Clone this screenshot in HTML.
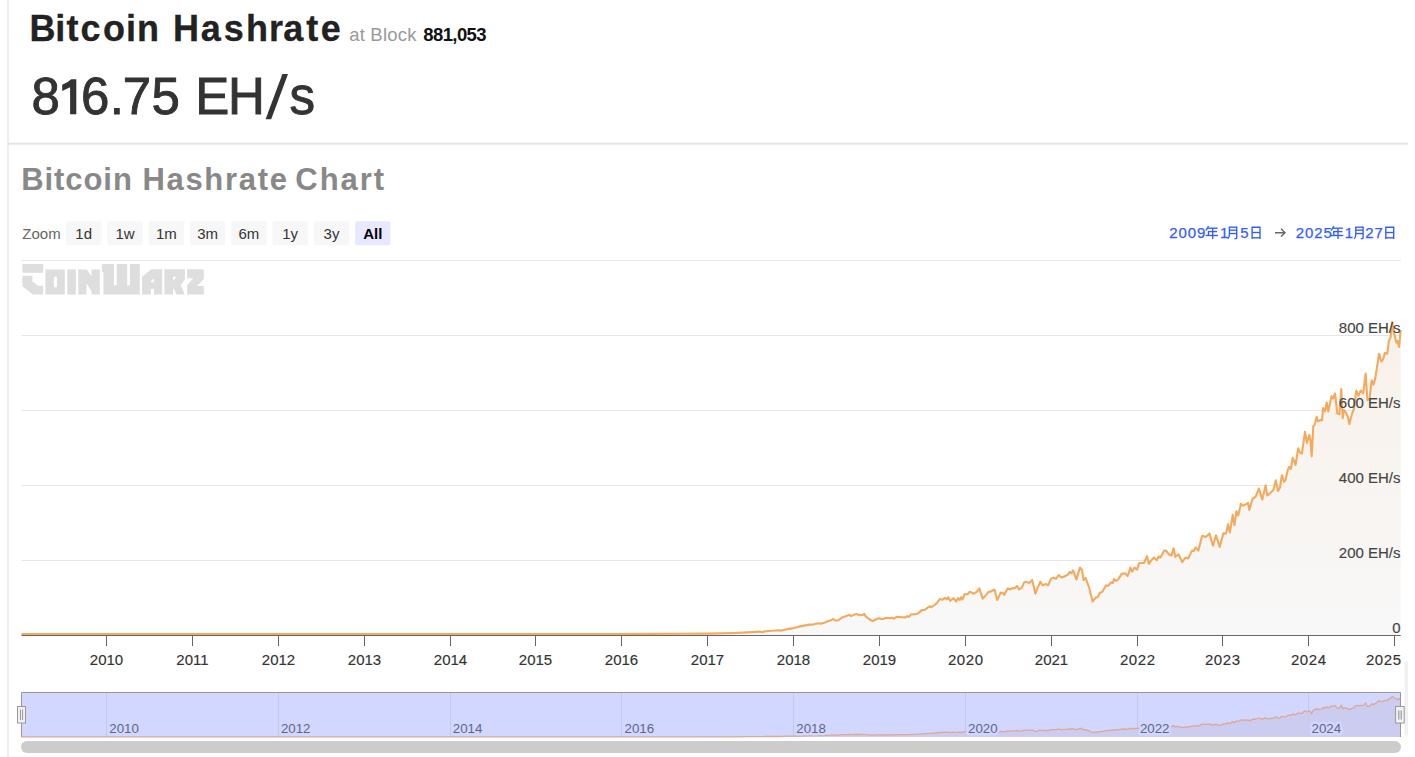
<!DOCTYPE html>
<html><head><meta charset="utf-8">
<style>
html,body{margin:0;padding:0;background:#fff;}
body{width:1415px;height:757px;overflow:hidden;position:relative;font-family:"Liberation Sans",sans-serif;}
.a{position:absolute;white-space:nowrap;line-height:1;}
#vline{position:absolute;left:7px;top:0;width:2px;height:757px;background:#efefef;}
#t2{left:349.2px;top:26px;font-size:18.5px;color:#999;letter-spacing:0.2px;}
#t3{left:423.3px;top:26px;font-size:18.5px;font-weight:bold;color:#111;letter-spacing:-0.6px;}
svg{position:absolute;left:0;top:0;}
</style></head><body>
<div id="vline"></div>
<div class="a" id="t2">at Block</div>
<div class="a" id="t3">881,053</div>

<svg width="1415" height="757" viewBox="0 0 1415 757" font-family="Liberation Sans, sans-serif">
<defs>
<linearGradient id="ag" x1="0" y1="0" x2="0" y2="1">
<stop offset="0" stop-color="#f9f1ea"/>
<stop offset="1" stop-color="#f8f8f8"/>
</linearGradient>
</defs>

<text x="29.5 55.3 66.5 80.6 102.9 126.1 136.9 173.1 200.7 223.8 246.0 268.9 283.3 306.2 320.8" y="41" font-size="36" font-weight="bold" fill="#222" stroke="#222" stroke-width="0.3">BitcoinHashrate</text>
<text x="31.6 80.9 109.8 122.7 151.4 195.2 228.0 289.6" y="114.3" font-size="51" fill="#333" stroke="#333" stroke-width="0.9">86.75EHs</text>
<path d="M282.4 74 H288 L271.2 119.3 H265.6 Z" fill="#333"/>
<path d="M76.3 79.3 V114.3 H70.1 V87.2 L62.2 91 V84.8 Q68.5 82.2 71.2 79.3 Z" fill="#333"/>
<rect x="8" y="142.7" width="1400" height="2" fill="#e4e4e4"/>
<g font-size="31" font-weight="bold" fill="#888">
<text x="21.2" y="189.9" letter-spacing="0.93">Bitcoin</text>
<text x="142.4" y="189.9" letter-spacing="1.7">Hashrate</text>
<text x="295.3" y="189.9" letter-spacing="1.95">Chart</text>
</g>
<!-- range selector -->
<text x="22.3" y="238.7" font-size="15" fill="#666">Zoom</text>
<g font-size="15" fill="#333" text-anchor="middle">
<rect x="66" y="221.3" width="35.4" height="24" rx="2" fill="#f7f7f7"/><text x="83.7" y="238.7">1d</text>
<rect x="107.3" y="221.3" width="35.4" height="24" rx="2" fill="#f7f7f7"/><text x="125" y="238.7">1w</text>
<rect x="148.6" y="221.3" width="35.4" height="24" rx="2" fill="#f7f7f7"/><text x="166.3" y="238.7">1m</text>
<rect x="189.9" y="221.3" width="35.4" height="24" rx="2" fill="#f7f7f7"/><text x="207.6" y="238.7">3m</text>
<rect x="231.2" y="221.3" width="35.4" height="24" rx="2" fill="#f7f7f7"/><text x="248.9" y="238.7">6m</text>
<rect x="272.5" y="221.3" width="35.4" height="24" rx="2" fill="#f7f7f7"/><text x="290.2" y="238.7">1y</text>
<rect x="313.8" y="221.3" width="35.4" height="24" rx="2" fill="#f7f7f7"/><text x="331.5" y="238.7">3y</text>
<rect x="355.1" y="221.3" width="35.4" height="24" rx="2" fill="#e6e9ff"/><text x="372.8" y="238.7" font-weight="bold" fill="#000">All</text>
</g>
<!-- date range -->
<g font-size="15" fill="#335cff" letter-spacing="0.9" stroke="#335cff" stroke-width="0.25">
<text x="1169.2" y="237.8">2009</text>
<text x="1220" y="237.8">1</text>
<text x="1240.3" y="237.8">5</text>
<text x="1295.8" y="237.8">2025</text>
<text x="1344.8" y="237.8">1</text>
<text x="1365.2" y="237.8">27</text>
</g>
<g transform="translate(1205.6 226)" fill="none" stroke="#335cff" stroke-width="1.35"><path d="M3 0.1 L0.2 4.6"/><path d="M1.9 2.2 H12"/><path d="M2.4 5.6 H11.5"/><path d="M2.9 5 V9.5"/><path d="M-0.1 9.5 H12.4"/><path d="M7.1 2.2 V12.9"/></g>
<g transform="translate(1227.2 226.6)" fill="none" stroke="#335cff" stroke-width="1.35"><path d="M2.2 0.6 V7.6 Q2.2 10.6 0.6 12.3"/><path d="M1.6 0.6 H9.5"/><path d="M9.5 0 V11.3 Q9.5 12 8.8 12 H7.2"/><path d="M2.2 3.55 H9.5"/><path d="M2.2 6.95 H9.5"/></g>
<g transform="translate(1251.2 226.6)" fill="none" stroke="#335cff" stroke-width="1.35"><path d="M0.9 12.3 V0.6 H8.8 V12.3"/><path d="M0.9 5.9 H8.8"/><path d="M0.9 11.2 H8.8"/></g>
<g transform="translate(1330.9 226)" fill="none" stroke="#335cff" stroke-width="1.35"><path d="M3 0.1 L0.2 4.6"/><path d="M1.9 2.2 H12"/><path d="M2.4 5.6 H11.5"/><path d="M2.9 5 V9.5"/><path d="M-0.1 9.5 H12.4"/><path d="M7.1 2.2 V12.9"/></g>
<g transform="translate(1353.6 226.6)" fill="none" stroke="#335cff" stroke-width="1.35"><path d="M2.2 0.6 V7.6 Q2.2 10.6 0.6 12.3"/><path d="M1.6 0.6 H9.5"/><path d="M9.5 0 V11.3 Q9.5 12 8.8 12 H7.2"/><path d="M2.2 3.55 H9.5"/><path d="M2.2 6.95 H9.5"/></g>
<g transform="translate(1384.9 226.6)" fill="none" stroke="#335cff" stroke-width="1.35"><path d="M0.9 12.3 V0.6 H8.8 V12.3"/><path d="M0.9 5.9 H8.8"/><path d="M0.9 11.2 H8.8"/></g>
<path d="M1275 232.7 H1285 M1281 228.8 L1285 232.7 L1281 236.6" fill="none" stroke="#666" stroke-width="1.4"/>

<!-- watermark logo -->
<g fill="#dedede">
<path d="M22.4 264 H43.2 V272.8 H22.4 Z"/>
<path d="M22.4 275.8 H32.4 V281.5 L37.8 285.8 H43.2 V294.6 H32.8 L22.4 286.2 Z"/>
<path fill-rule="evenodd" d="M45.4 269.4 H64.8 V294.6 H45.4 Z M53.9 276.8 V287.2 H56.9 V276.8 Z"/>
<path d="M67.3 269.4 H75.9 V294.6 H67.3 Z"/>
<path d="M78.3 269.4 H86.8 L91.5 276.4 V269.4 H99.8 V294.6 H91.5 V290.9 L86.5 283.5 V294.6 H78.3 Z"/>
<path d="M101.9 263.9 H114 V285.3 H116.7 V263.9 H127.2 V285.3 H129.9 V263.9 H139.8 V294.6 H103.5 V272.6 L101.9 272 Z"/>
<path fill-rule="evenodd" d="M142 276.7 L151.3 269.3 H162.2 V294.6 H154 V288.8 H150.9 V294.6 H142 Z M150.9 281.2 L154 278.3 V282.2 H150.9 Z"/>
<path fill-rule="evenodd" d="M164.4 269.3 H184.9 V279.4 L180.8 284.9 L184.7 294.6 H176.6 L173.1 287.6 V294.6 H164.4 Z M173.1 276.7 H176.6 L173.1 281 Z"/>
<path d="M187.1 269.3 H203.8 V279 L197.2 286 H203.8 V294.6 H187.1 V284.9 L193.3 278.3 H187.1 Z"/>
</g>

<!-- gridlines -->
<g stroke="#e6e6e6" stroke-width="1">
<line x1="21.5" y1="260.5" x2="1400.7" y2="260.5"/>
<line x1="21.5" y1="335.5" x2="1400.7" y2="335.5"/>
<line x1="21.5" y1="410.5" x2="1400.7" y2="410.5"/>
<line x1="21.5" y1="485.5" x2="1400.7" y2="485.5"/>
<line x1="21.5" y1="560.5" x2="1400.7" y2="560.5"/>
</g>
<!-- series -->
<path d="M21.5 634 L33.5 634 L45.5 634 L57.5 634 L69.5 634 L81.5 634 L93.5 634 L105.5 634 L117.5 634 L129.5 634 L141.5 634 L153.5 634 L165.5 634 L177.5 634 L189.5 634 L201.5 634 L213.5 634 L225.5 634 L237.5 634 L249.5 634 L261.5 634 L273.5 634 L285.5 634 L297.5 634 L309.5 634 L321.5 634 L333.5 634 L345.5 634 L357.5 634 L369.5 634 L381.5 634 L393.5 634 L405.5 634 L417.5 634 L429.5 634 L441.5 634 L453.5 634 L465.5 634 L477.5 634 L489.5 634 L501.5 634 L513.5 634 L525.5 634 L537.5 634 L549.5 634 L561.5 634 L573.5 634 L585.5 634 L597.5 634 L609.5 634 L620 634 L650 633.9 L680 633.8 L706.5 633.6 L720 633.4 L734.5 633 L747.2 632.4 L759.9 631.6 L762.5 632.2 L765 631.2 L772 630.8 L779 630.2 L781.6 630.6 L787.9 628.9 L792.1 628.4 L797.8 626.9 L802.9 625.9 L809.3 624.6 L813.1 624.6 L818.2 623.3 L820.1 623.8 L824.5 622.8 L827.1 621.5 L830.9 620.3 L833.2 619 L835.3 620.5 L837.9 620.5 L842.3 617.4 L846.1 616.1 L849.3 614.8 L851.2 616.1 L856.1 613.9 L860.1 615.2 L862.7 614.9 L864.2 613.9 L865.9 616.7 L869 619 L872.6 621.2 L876.7 619 L879.2 618.2 L881.8 619.3 L886.9 617.7 L890 618.2 L892 617.7 L893.9 618.6 L897 616.7 L900.9 617.1 L905.3 617.4 L907.2 616.1 L908.7 617 L911 614.4 L914.8 614.2 L918 613.5 L921.8 610.1 L925 609.7 L929.5 606.3 L931.4 607.2 L935.8 604.2 L940 598.9 L942.2 599.9 L944.9 597.9 L946.8 599.4 L948.2 597.2 L950.2 600.8 L953.4 598.2 L956.3 601.5 L958.1 598 L959.8 600.1 L961.2 597.2 L962.6 599.4 L964.7 594 L967.6 594.4 L969.7 591.6 L973.9 593.7 L977 591.6 L979.3 588.3 L982.7 598.7 L986.6 594.4 L988.8 591.6 L990.9 591.6 L994.4 589.5 L997.2 600.1 L1000.8 592.6 L1002.9 593 L1004.3 594.8 L1007.8 588.3 L1010 589.5 L1012.8 588.1 L1014.9 588.1 L1017 585.9 L1019.2 589.5 L1022 587.3 L1024.1 582.4 L1026.2 581.7 L1029 583.1 L1032.2 579.9 L1035.4 593.7 L1037.5 588.1 L1040.4 581.7 L1042.5 585.2 L1046 584.1 L1048.1 585.2 L1051 578.9 L1053.1 577.5 L1055.9 578.9 L1058.7 575.1 L1061.6 577.5 L1064.4 576.5 L1067.9 574.6 L1069.8 571.8 L1071.4 573.2 L1073.1 570.4 L1076.4 579.6 L1079.9 567.6 L1082 569.7 L1083.5 579.9 L1085.6 577.9 L1089.1 587.3 L1092.6 601.5 L1096.2 597.2 L1097.6 597.2 L1099.7 593 L1102.5 591.6 L1106.1 585.2 L1108.2 585.9 L1111 582.4 L1112.7 583.1 L1114.1 578.9 L1116 581 L1118.1 579.6 L1121.6 573.9 L1125.2 573.2 L1127.7 576 L1130.4 567.6 L1132 571.7 L1134.5 567.6 L1137.1 569.6 L1139.2 563 L1143.9 563 L1147 556.2 L1148.9 563.9 L1151.3 560.2 L1154 557.5 L1156.8 560.2 L1158.7 556.5 L1160.5 557.5 L1164.2 550.6 L1166.1 550.6 L1168.8 554.3 L1171.6 555.6 L1173.5 548.2 L1175.3 556.9 L1178.5 554.3 L1182.2 562.1 L1185.5 557.5 L1188.3 558.4 L1192 550.6 L1193.8 551 L1195.7 547.3 L1198.4 550.6 L1202.1 535.8 L1205.8 537.1 L1209.5 533.4 L1212.9 545.8 L1216 535.3 L1219.7 546.9 L1223.4 533.4 L1226.2 533.4 L1228 524.2 L1229.9 532.5 L1232.7 514.9 L1234.5 525.1 L1236.4 511.2 L1238.2 515.5 L1241 503.8 L1243.2 505.7 L1245.6 504.4 L1248 502.9 L1249.3 509.9 L1252.5 498.8 L1255.8 496.4 L1258.9 488.5 L1262.3 499.6 L1265.6 485.3 L1267.3 495.5 L1270.6 492.7 L1273.4 490 L1275.8 480.3 L1278 490.9 L1280 487.4 L1281.9 475.2 L1284 481.7 L1285.5 480.1 L1287.6 470.6 L1289.2 466.9 L1290.8 469 L1292.7 457.9 L1294.3 461.1 L1295.5 465 L1298.2 448.4 L1299.8 452.4 L1301.9 453.6 L1305 431.8 L1306.9 442.9 L1309.3 434.9 L1310.4 439.7 L1311.7 456.3 L1313.3 426.2 L1314.8 424.6 L1316.7 416.7 L1318 421.5 L1320.4 419.9 L1322 420.4 L1323.1 408 L1325.1 411.2 L1326.7 402.5 L1328.3 411.5 L1331.5 396.1 L1333.1 398.5 L1335.1 393.4 L1337.3 413.6 L1339.4 414.3 L1341.3 389 L1342.7 418.2 L1343.9 410 L1346.2 412.9 L1347.7 416.4 L1349.4 424 L1352 413.8 L1353.7 409.5 L1356.3 390.6 L1358.5 395.8 L1360.6 390.6 L1363.2 393.2 L1365.7 373.5 L1367.4 400.1 L1369.5 399.2 L1371.7 380.3 L1373.5 384.6 L1375.2 378.6 L1379.1 353.7 L1381.2 361.5 L1382.9 359.8 L1385 352.9 L1387.2 353.7 L1388.9 340.9 L1390.6 337.4 L1392.3 322 L1394 332.3 L1396.3 342.6 L1397.5 340.9 L1399.2 346.9 L1400.6 330 L1400.6 635 L21.5 635 Z" fill="url(#ag)"/>
<path d="M21.5 634 L33.5 634 L45.5 634 L57.5 634 L69.5 634 L81.5 634 L93.5 634 L105.5 634 L117.5 634 L129.5 634 L141.5 634 L153.5 634 L165.5 634 L177.5 634 L189.5 634 L201.5 634 L213.5 634 L225.5 634 L237.5 634 L249.5 634 L261.5 634 L273.5 634 L285.5 634 L297.5 634 L309.5 634 L321.5 634 L333.5 634 L345.5 634 L357.5 634 L369.5 634 L381.5 634 L393.5 634 L405.5 634 L417.5 634 L429.5 634 L441.5 634 L453.5 634 L465.5 634 L477.5 634 L489.5 634 L501.5 634 L513.5 634 L525.5 634 L537.5 634 L549.5 634 L561.5 634 L573.5 634 L585.5 634 L597.5 634 L609.5 634 L620 634 L650 633.9 L680 633.8 L706.5 633.6 L720 633.4 L734.5 633 L747.2 632.4 L759.9 631.6 L762.5 632.2 L765 631.2 L772 630.8 L779 630.2 L781.6 630.6 L787.9 628.9 L792.1 628.4 L797.8 626.9 L802.9 625.9 L809.3 624.6 L813.1 624.6 L818.2 623.3 L820.1 623.8 L824.5 622.8 L827.1 621.5 L830.9 620.3 L833.2 619 L835.3 620.5 L837.9 620.5 L842.3 617.4 L846.1 616.1 L849.3 614.8 L851.2 616.1 L856.1 613.9 L860.1 615.2 L862.7 614.9 L864.2 613.9 L865.9 616.7 L869 619 L872.6 621.2 L876.7 619 L879.2 618.2 L881.8 619.3 L886.9 617.7 L890 618.2 L892 617.7 L893.9 618.6 L897 616.7 L900.9 617.1 L905.3 617.4 L907.2 616.1 L908.7 617 L911 614.4 L914.8 614.2 L918 613.5 L921.8 610.1 L925 609.7 L929.5 606.3 L931.4 607.2 L935.8 604.2 L940 598.9 L942.2 599.9 L944.9 597.9 L946.8 599.4 L948.2 597.2 L950.2 600.8 L953.4 598.2 L956.3 601.5 L958.1 598 L959.8 600.1 L961.2 597.2 L962.6 599.4 L964.7 594 L967.6 594.4 L969.7 591.6 L973.9 593.7 L977 591.6 L979.3 588.3 L982.7 598.7 L986.6 594.4 L988.8 591.6 L990.9 591.6 L994.4 589.5 L997.2 600.1 L1000.8 592.6 L1002.9 593 L1004.3 594.8 L1007.8 588.3 L1010 589.5 L1012.8 588.1 L1014.9 588.1 L1017 585.9 L1019.2 589.5 L1022 587.3 L1024.1 582.4 L1026.2 581.7 L1029 583.1 L1032.2 579.9 L1035.4 593.7 L1037.5 588.1 L1040.4 581.7 L1042.5 585.2 L1046 584.1 L1048.1 585.2 L1051 578.9 L1053.1 577.5 L1055.9 578.9 L1058.7 575.1 L1061.6 577.5 L1064.4 576.5 L1067.9 574.6 L1069.8 571.8 L1071.4 573.2 L1073.1 570.4 L1076.4 579.6 L1079.9 567.6 L1082 569.7 L1083.5 579.9 L1085.6 577.9 L1089.1 587.3 L1092.6 601.5 L1096.2 597.2 L1097.6 597.2 L1099.7 593 L1102.5 591.6 L1106.1 585.2 L1108.2 585.9 L1111 582.4 L1112.7 583.1 L1114.1 578.9 L1116 581 L1118.1 579.6 L1121.6 573.9 L1125.2 573.2 L1127.7 576 L1130.4 567.6 L1132 571.7 L1134.5 567.6 L1137.1 569.6 L1139.2 563 L1143.9 563 L1147 556.2 L1148.9 563.9 L1151.3 560.2 L1154 557.5 L1156.8 560.2 L1158.7 556.5 L1160.5 557.5 L1164.2 550.6 L1166.1 550.6 L1168.8 554.3 L1171.6 555.6 L1173.5 548.2 L1175.3 556.9 L1178.5 554.3 L1182.2 562.1 L1185.5 557.5 L1188.3 558.4 L1192 550.6 L1193.8 551 L1195.7 547.3 L1198.4 550.6 L1202.1 535.8 L1205.8 537.1 L1209.5 533.4 L1212.9 545.8 L1216 535.3 L1219.7 546.9 L1223.4 533.4 L1226.2 533.4 L1228 524.2 L1229.9 532.5 L1232.7 514.9 L1234.5 525.1 L1236.4 511.2 L1238.2 515.5 L1241 503.8 L1243.2 505.7 L1245.6 504.4 L1248 502.9 L1249.3 509.9 L1252.5 498.8 L1255.8 496.4 L1258.9 488.5 L1262.3 499.6 L1265.6 485.3 L1267.3 495.5 L1270.6 492.7 L1273.4 490 L1275.8 480.3 L1278 490.9 L1280 487.4 L1281.9 475.2 L1284 481.7 L1285.5 480.1 L1287.6 470.6 L1289.2 466.9 L1290.8 469 L1292.7 457.9 L1294.3 461.1 L1295.5 465 L1298.2 448.4 L1299.8 452.4 L1301.9 453.6 L1305 431.8 L1306.9 442.9 L1309.3 434.9 L1310.4 439.7 L1311.7 456.3 L1313.3 426.2 L1314.8 424.6 L1316.7 416.7 L1318 421.5 L1320.4 419.9 L1322 420.4 L1323.1 408 L1325.1 411.2 L1326.7 402.5 L1328.3 411.5 L1331.5 396.1 L1333.1 398.5 L1335.1 393.4 L1337.3 413.6 L1339.4 414.3 L1341.3 389 L1342.7 418.2 L1343.9 410 L1346.2 412.9 L1347.7 416.4 L1349.4 424 L1352 413.8 L1353.7 409.5 L1356.3 390.6 L1358.5 395.8 L1360.6 390.6 L1363.2 393.2 L1365.7 373.5 L1367.4 400.1 L1369.5 399.2 L1371.7 380.3 L1373.5 384.6 L1375.2 378.6 L1379.1 353.7 L1381.2 361.5 L1382.9 359.8 L1385 352.9 L1387.2 353.7 L1388.9 340.9 L1390.6 337.4 L1392.3 322 L1394 332.3 L1396.3 342.6 L1397.5 340.9 L1399.2 346.9 L1400.6 330" fill="none" stroke="#f4aa5d" stroke-width="2.1" stroke-linejoin="round" stroke-linecap="butt"/>
<!-- axis -->
<line x1="21.5" y1="635.5" x2="1400.7" y2="635.5" stroke="#666" stroke-width="1"/>
<g stroke="#666" stroke-width="1"><line x1="106.5" y1="635" x2="106.5" y2="646" /><line x1="192.5" y1="635" x2="192.5" y2="646" /><line x1="278.5" y1="635" x2="278.5" y2="646" /><line x1="364.5" y1="635" x2="364.5" y2="646" /><line x1="450.5" y1="635" x2="450.5" y2="646" /><line x1="535.5" y1="635" x2="535.5" y2="646" /><line x1="621.5" y1="635" x2="621.5" y2="646" /><line x1="707.5" y1="635" x2="707.5" y2="646" /><line x1="793.5" y1="635" x2="793.5" y2="646" /><line x1="879.5" y1="635" x2="879.5" y2="646" /><line x1="965.5" y1="635" x2="965.5" y2="646" /><line x1="1051.5" y1="635" x2="1051.5" y2="646" /><line x1="1137.5" y1="635" x2="1137.5" y2="646" /><line x1="1222.5" y1="635" x2="1222.5" y2="646" /><line x1="1308.5" y1="635" x2="1308.5" y2="646" /><line x1="1394.5" y1="635" x2="1394.5" y2="646" /></g>
<g font-size="15" fill="#333" text-anchor="middle" stroke="#333" stroke-width="0.15"><text x="106.5" y="664.5">2010</text><text x="192.5" y="664.5">2011</text><text x="278.5" y="664.5">2012</text><text x="364.5" y="664.5">2013</text><text x="450.5" y="664.5">2014</text><text x="535.5" y="664.5">2015</text><text x="621.5" y="664.5">2016</text><text x="707.5" y="664.5">2017</text><text x="793.5" y="664.5">2018</text><text x="879.5" y="664.5">2019</text><text x="965.8" y="664.5" letter-spacing="0.6">2020</text><text x="1051.5" y="664.5">2021</text><text x="1137.8" y="664.5" letter-spacing="0.6">2022</text><text x="1222.8" y="664.5" letter-spacing="0.6">2023</text><text x="1308.8" y="664.5" letter-spacing="0.6">2024</text><text x="1383.8" y="664.5" letter-spacing="0.6">2025</text></g>
<!-- y labels -->
<g font-size="15" fill="#444" text-anchor="end" stroke="#444" stroke-width="0.15">
<text x="1400.5" y="332.8">800 EH/s</text>
<text x="1400.5" y="407.8">600 EH/s</text>
<text x="1400.5" y="482.8">400 EH/s</text>
<text x="1400.5" y="557.8">200 EH/s</text>
<text x="1400.5" y="632.8">0</text>
</g>

<!-- navigator -->
<rect x="21.5" y="692" width="1379" height="45" fill="#d1d7ff"/>
<g stroke="#c3c8ee" stroke-width="1"><line x1="106.5" y1="692" x2="106.5" y2="737"/><line x1="278.5" y1="692" x2="278.5" y2="737"/><line x1="450.5" y1="692" x2="450.5" y2="737"/><line x1="621.5" y1="692" x2="621.5" y2="737"/><line x1="793.5" y1="692" x2="793.5" y2="737"/><line x1="965.5" y1="692" x2="965.5" y2="737"/><line x1="1137.5" y1="692" x2="1137.5" y2="737"/><line x1="1308.5" y1="692" x2="1308.5" y2="737"/></g>
<path d="M21.5 736.9 L33.5 736.9 L45.5 736.9 L57.5 736.9 L69.5 736.9 L81.5 736.9 L93.5 736.9 L105.5 736.9 L117.5 736.9 L129.5 736.9 L141.5 736.9 L153.5 736.9 L165.5 736.9 L177.5 736.9 L189.5 736.9 L201.5 736.9 L213.5 736.9 L225.5 736.9 L237.5 736.9 L249.5 736.9 L261.5 736.9 L273.5 736.9 L285.5 736.9 L297.5 736.9 L309.5 736.9 L321.5 736.9 L333.5 736.9 L345.5 736.9 L357.5 736.9 L369.5 736.9 L381.5 736.9 L393.5 736.9 L405.5 736.9 L417.5 736.9 L429.5 736.9 L441.5 736.9 L453.5 736.9 L465.5 736.9 L477.5 736.9 L489.5 736.9 L501.5 736.9 L513.5 736.9 L525.5 736.9 L537.5 736.9 L549.5 736.9 L561.5 736.9 L573.5 736.9 L585.5 736.9 L597.5 736.9 L609.5 736.9 L620 736.9 L650 736.9 L680 736.9 L706.5 736.8 L720 736.8 L734.5 736.8 L747.2 736.7 L759.9 736.6 L762.5 736.7 L765 736.5 L772 736.5 L779 736.4 L781.6 736.5 L787.9 736.2 L792.1 736.2 L797.8 736 L802.9 735.8 L809.3 735.7 L813.1 735.7 L818.2 735.5 L820.1 735.6 L824.5 735.4 L827.1 735.3 L830.9 735.1 L833.2 734.9 L835.3 735.1 L837.9 735.1 L842.3 734.7 L846.1 734.6 L849.3 734.4 L851.2 734.6 L856.1 734.3 L860.1 734.5 L862.7 734.4 L864.2 734.3 L865.9 734.7 L869 734.9 L872.6 735.2 L876.7 734.9 L879.2 734.8 L881.8 735 L886.9 734.8 L890 734.8 L892 734.8 L893.9 734.9 L897 734.7 L900.9 734.7 L905.3 734.7 L907.2 734.6 L908.7 734.7 L911 734.4 L914.8 734.3 L918 734.2 L921.8 733.8 L925 733.7 L929.5 733.3 L931.4 733.4 L935.8 733 L940 732.3 L942.2 732.5 L944.9 732.2 L946.8 732.4 L948.2 732.1 L950.2 732.6 L953.4 732.2 L956.3 732.7 L958.1 732.2 L959.8 732.5 L961.2 732.1 L962.6 732.4 L964.7 731.7 L967.6 731.8 L969.7 731.4 L973.9 731.7 L977 731.4 L979.3 731 L982.7 732.3 L986.6 731.8 L988.8 731.4 L990.9 731.4 L994.4 731.1 L997.2 732.5 L1000.8 731.5 L1002.9 731.6 L1004.3 731.8 L1007.8 731 L1010 731.1 L1012.8 730.9 L1014.9 730.9 L1017 730.6 L1019.2 731.1 L1022 730.8 L1024.1 730.2 L1026.2 730.1 L1029 730.3 L1032.2 729.9 L1035.4 731.7 L1037.5 730.9 L1040.4 730.1 L1042.5 730.6 L1046 730.4 L1048.1 730.6 L1051 729.7 L1053.1 729.6 L1055.9 729.7 L1058.7 729.2 L1061.6 729.6 L1064.4 729.4 L1067.9 729.2 L1069.8 728.8 L1071.4 729 L1073.1 728.6 L1076.4 729.8 L1079.9 728.3 L1082 728.5 L1083.5 729.9 L1085.6 729.6 L1089.1 730.8 L1092.6 732.7 L1096.2 732.1 L1097.6 732.1 L1099.7 731.6 L1102.5 731.4 L1106.1 730.6 L1108.2 730.6 L1111 730.2 L1112.7 730.3 L1114.1 729.7 L1116 730 L1118.1 729.8 L1121.6 729.1 L1125.2 729 L1127.7 729.4 L1130.4 728.3 L1132 728.8 L1134.5 728.3 L1137.1 728.5 L1139.2 727.7 L1143.9 727.7 L1147 726.8 L1148.9 727.8 L1151.3 727.3 L1154 727 L1156.8 727.3 L1158.7 726.8 L1160.5 727 L1164.2 726.1 L1166.1 726.1 L1168.8 726.5 L1171.6 726.7 L1173.5 725.7 L1175.3 726.9 L1178.5 726.5 L1182.2 727.6 L1185.5 727 L1188.3 727.1 L1192 726.1 L1193.8 726.1 L1195.7 725.6 L1198.4 726.1 L1202.1 724.1 L1205.8 724.3 L1209.5 723.8 L1212.9 725.4 L1216 724.1 L1219.7 725.6 L1223.4 723.8 L1226.2 723.8 L1228 722.6 L1229.9 723.7 L1232.7 721.4 L1234.5 722.7 L1236.4 720.9 L1238.2 721.5 L1241 720 L1243.2 720.2 L1245.6 720.1 L1248 719.9 L1249.3 720.8 L1252.5 719.3 L1255.8 719 L1258.9 718 L1262.3 719.4 L1265.6 717.6 L1267.3 718.9 L1270.6 718.5 L1273.4 718.2 L1275.8 716.9 L1278 718.3 L1280 717.8 L1281.9 716.3 L1284 717.1 L1285.5 716.9 L1287.6 715.7 L1289.2 715.2 L1290.8 715.4 L1292.7 714 L1294.3 714.4 L1295.5 714.9 L1298.2 712.8 L1299.8 713.3 L1301.9 713.4 L1305 710.6 L1306.9 712.1 L1309.3 711 L1310.4 711.6 L1311.7 713.8 L1313.3 709.9 L1314.8 709.7 L1316.7 708.7 L1318 709.3 L1320.4 709.1 L1322 709.1 L1323.1 707.5 L1325.1 707.9 L1326.7 706.8 L1328.3 708 L1331.5 706 L1333.1 706.3 L1335.1 705.6 L1337.3 708.2 L1339.4 708.3 L1341.3 705 L1342.7 708.8 L1343.9 707.8 L1346.2 708.2 L1347.7 708.6 L1349.4 709.6 L1352 708.3 L1353.7 707.7 L1356.3 705.3 L1358.5 705.9 L1360.6 705.3 L1363.2 705.6 L1365.7 703 L1367.4 706.5 L1369.5 706.4 L1371.7 703.9 L1373.5 704.5 L1375.2 703.7 L1379.1 700.5 L1381.2 701.5 L1382.9 701.3 L1385 700.4 L1387.2 700.5 L1388.9 698.8 L1390.6 698.3 L1392.3 696.3 L1394 697.7 L1396.3 699 L1397.5 698.8 L1399.2 699.6 L1400.6 697.4 L1400.6 737 L21.5 737 Z" fill="#cbcaee" fill-opacity="0.85"/>
<path d="M21.5 736.9 L33.5 736.9 L45.5 736.9 L57.5 736.9 L69.5 736.9 L81.5 736.9 L93.5 736.9 L105.5 736.9 L117.5 736.9 L129.5 736.9 L141.5 736.9 L153.5 736.9 L165.5 736.9 L177.5 736.9 L189.5 736.9 L201.5 736.9 L213.5 736.9 L225.5 736.9 L237.5 736.9 L249.5 736.9 L261.5 736.9 L273.5 736.9 L285.5 736.9 L297.5 736.9 L309.5 736.9 L321.5 736.9 L333.5 736.9 L345.5 736.9 L357.5 736.9 L369.5 736.9 L381.5 736.9 L393.5 736.9 L405.5 736.9 L417.5 736.9 L429.5 736.9 L441.5 736.9 L453.5 736.9 L465.5 736.9 L477.5 736.9 L489.5 736.9 L501.5 736.9 L513.5 736.9 L525.5 736.9 L537.5 736.9 L549.5 736.9 L561.5 736.9 L573.5 736.9 L585.5 736.9 L597.5 736.9 L609.5 736.9 L620 736.9 L650 736.9 L680 736.9 L706.5 736.8 L720 736.8 L734.5 736.8 L747.2 736.7 L759.9 736.6 L762.5 736.7 L765 736.5 L772 736.5 L779 736.4 L781.6 736.5 L787.9 736.2 L792.1 736.2 L797.8 736 L802.9 735.8 L809.3 735.7 L813.1 735.7 L818.2 735.5 L820.1 735.6 L824.5 735.4 L827.1 735.3 L830.9 735.1 L833.2 734.9 L835.3 735.1 L837.9 735.1 L842.3 734.7 L846.1 734.6 L849.3 734.4 L851.2 734.6 L856.1 734.3 L860.1 734.5 L862.7 734.4 L864.2 734.3 L865.9 734.7 L869 734.9 L872.6 735.2 L876.7 734.9 L879.2 734.8 L881.8 735 L886.9 734.8 L890 734.8 L892 734.8 L893.9 734.9 L897 734.7 L900.9 734.7 L905.3 734.7 L907.2 734.6 L908.7 734.7 L911 734.4 L914.8 734.3 L918 734.2 L921.8 733.8 L925 733.7 L929.5 733.3 L931.4 733.4 L935.8 733 L940 732.3 L942.2 732.5 L944.9 732.2 L946.8 732.4 L948.2 732.1 L950.2 732.6 L953.4 732.2 L956.3 732.7 L958.1 732.2 L959.8 732.5 L961.2 732.1 L962.6 732.4 L964.7 731.7 L967.6 731.8 L969.7 731.4 L973.9 731.7 L977 731.4 L979.3 731 L982.7 732.3 L986.6 731.8 L988.8 731.4 L990.9 731.4 L994.4 731.1 L997.2 732.5 L1000.8 731.5 L1002.9 731.6 L1004.3 731.8 L1007.8 731 L1010 731.1 L1012.8 730.9 L1014.9 730.9 L1017 730.6 L1019.2 731.1 L1022 730.8 L1024.1 730.2 L1026.2 730.1 L1029 730.3 L1032.2 729.9 L1035.4 731.7 L1037.5 730.9 L1040.4 730.1 L1042.5 730.6 L1046 730.4 L1048.1 730.6 L1051 729.7 L1053.1 729.6 L1055.9 729.7 L1058.7 729.2 L1061.6 729.6 L1064.4 729.4 L1067.9 729.2 L1069.8 728.8 L1071.4 729 L1073.1 728.6 L1076.4 729.8 L1079.9 728.3 L1082 728.5 L1083.5 729.9 L1085.6 729.6 L1089.1 730.8 L1092.6 732.7 L1096.2 732.1 L1097.6 732.1 L1099.7 731.6 L1102.5 731.4 L1106.1 730.6 L1108.2 730.6 L1111 730.2 L1112.7 730.3 L1114.1 729.7 L1116 730 L1118.1 729.8 L1121.6 729.1 L1125.2 729 L1127.7 729.4 L1130.4 728.3 L1132 728.8 L1134.5 728.3 L1137.1 728.5 L1139.2 727.7 L1143.9 727.7 L1147 726.8 L1148.9 727.8 L1151.3 727.3 L1154 727 L1156.8 727.3 L1158.7 726.8 L1160.5 727 L1164.2 726.1 L1166.1 726.1 L1168.8 726.5 L1171.6 726.7 L1173.5 725.7 L1175.3 726.9 L1178.5 726.5 L1182.2 727.6 L1185.5 727 L1188.3 727.1 L1192 726.1 L1193.8 726.1 L1195.7 725.6 L1198.4 726.1 L1202.1 724.1 L1205.8 724.3 L1209.5 723.8 L1212.9 725.4 L1216 724.1 L1219.7 725.6 L1223.4 723.8 L1226.2 723.8 L1228 722.6 L1229.9 723.7 L1232.7 721.4 L1234.5 722.7 L1236.4 720.9 L1238.2 721.5 L1241 720 L1243.2 720.2 L1245.6 720.1 L1248 719.9 L1249.3 720.8 L1252.5 719.3 L1255.8 719 L1258.9 718 L1262.3 719.4 L1265.6 717.6 L1267.3 718.9 L1270.6 718.5 L1273.4 718.2 L1275.8 716.9 L1278 718.3 L1280 717.8 L1281.9 716.3 L1284 717.1 L1285.5 716.9 L1287.6 715.7 L1289.2 715.2 L1290.8 715.4 L1292.7 714 L1294.3 714.4 L1295.5 714.9 L1298.2 712.8 L1299.8 713.3 L1301.9 713.4 L1305 710.6 L1306.9 712.1 L1309.3 711 L1310.4 711.6 L1311.7 713.8 L1313.3 709.9 L1314.8 709.7 L1316.7 708.7 L1318 709.3 L1320.4 709.1 L1322 709.1 L1323.1 707.5 L1325.1 707.9 L1326.7 706.8 L1328.3 708 L1331.5 706 L1333.1 706.3 L1335.1 705.6 L1337.3 708.2 L1339.4 708.3 L1341.3 705 L1342.7 708.8 L1343.9 707.8 L1346.2 708.2 L1347.7 708.6 L1349.4 709.6 L1352 708.3 L1353.7 707.7 L1356.3 705.3 L1358.5 705.9 L1360.6 705.3 L1363.2 705.6 L1365.7 703 L1367.4 706.5 L1369.5 706.4 L1371.7 703.9 L1373.5 704.5 L1375.2 703.7 L1379.1 700.5 L1381.2 701.5 L1382.9 701.3 L1385 700.4 L1387.2 700.5 L1388.9 698.8 L1390.6 698.3 L1392.3 696.3 L1394 697.7 L1396.3 699 L1397.5 698.8 L1399.2 699.6 L1400.6 697.4" fill="none" stroke="#dea796" stroke-width="1.3" stroke-linejoin="round"/>
<g font-size="13.3" fill="#60668a" stroke="#d1d7ff" stroke-width="5" stroke-linejoin="round" paint-order="stroke"><text x="109.3" y="732.5">2010</text><text x="280.9" y="732.5">2012</text><text x="452.8" y="732.5">2014</text><text x="624.5" y="732.5">2016</text><text x="796.3" y="732.5">2018</text><text x="968.0" y="732.5">2020</text><text x="1139.9" y="732.5">2022</text><text x="1311.5" y="732.5">2024</text></g>
<path d="M21.5 737 V692.5 H1400.5 V737" fill="none" stroke="#999" stroke-width="1"/>
<rect x="1404.5" y="661" width="3.5" height="75" rx="1.75" fill="#f1f1f1"/>
<!-- handles -->
<rect x="17.5" y="706.5" width="8" height="16.5" fill="#f2f2f2" stroke="#999" stroke-width="1"/>
<path d="M20.5 709.5 V720 M22.6 709.5 V720" stroke="#999" stroke-width="1"/>
<rect x="1395.6" y="706.5" width="8.6" height="16.5" fill="#f2f2f2" stroke="#999" stroke-width="1"/>
<path d="M1398.8 710.5 V719.5 M1401.2 710.5 V719.5" stroke="#999" stroke-width="1.2"/>
<!-- scrollbar -->
<rect x="21" y="741" width="1380" height="12" rx="6" fill="#cccccc"/>
</svg>
</body></html>
